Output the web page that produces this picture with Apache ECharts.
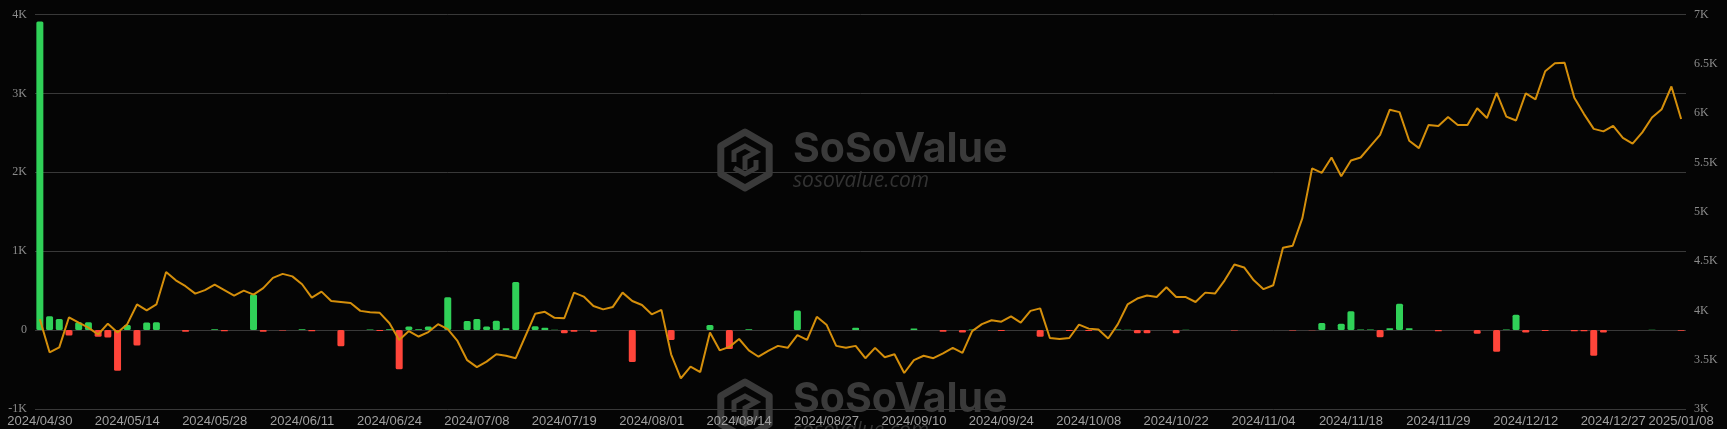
<!DOCTYPE html>
<html>
<head>
<meta charset="utf-8">
<title>HK ETF flows</title>
<script src="https://cdn.jsdelivr.net/npm/echarts@6/dist/echarts.min.js"></script>
<style>
  html, body { margin: 0; padding: 0; background: #050505; }
  #chart { width: 1727px; height: 429px; }
</style>
</head>
<body>
<div id="chart"></div>
<script>
// 交易日（香港）
const dates = [
  '2024/04/30','2024/05/02','2024/05/03','2024/05/06','2024/05/07','2024/05/08','2024/05/09','2024/05/10','2024/05/13','2024/05/14',
  '2024/05/16','2024/05/17','2024/05/20','2024/05/21','2024/05/22','2024/05/23','2024/05/24','2024/05/27','2024/05/28','2024/05/29',
  '2024/05/30','2024/05/31','2024/06/03','2024/06/04','2024/06/05','2024/06/06','2024/06/07','2024/06/11','2024/06/12','2024/06/13',
  '2024/06/14','2024/06/17','2024/06/18','2024/06/19','2024/06/20','2024/06/21','2024/06/24','2024/06/25','2024/06/26','2024/06/27',
  '2024/06/28','2024/07/02','2024/07/03','2024/07/04','2024/07/05','2024/07/08','2024/07/09','2024/07/10','2024/07/11','2024/07/12',
  '2024/07/15','2024/07/16','2024/07/17','2024/07/18','2024/07/19','2024/07/22','2024/07/23','2024/07/24','2024/07/25','2024/07/26',
  '2024/07/29','2024/07/30','2024/07/31','2024/08/01','2024/08/02','2024/08/05','2024/08/06','2024/08/07','2024/08/08','2024/08/09',
  '2024/08/12','2024/08/13','2024/08/14','2024/08/15','2024/08/16','2024/08/19','2024/08/20','2024/08/21','2024/08/22','2024/08/23',
  '2024/08/26','2024/08/27','2024/08/28','2024/08/29','2024/08/30','2024/09/02','2024/09/03','2024/09/04','2024/09/05','2024/09/09',
  '2024/09/10','2024/09/11','2024/09/12','2024/09/13','2024/09/16','2024/09/17','2024/09/19','2024/09/20','2024/09/23','2024/09/24',
  '2024/09/25','2024/09/26','2024/09/27','2024/09/30','2024/10/02','2024/10/03','2024/10/04','2024/10/07','2024/10/08','2024/10/09',
  '2024/10/10','2024/10/14','2024/10/15','2024/10/16','2024/10/17','2024/10/18','2024/10/21','2024/10/22','2024/10/23','2024/10/24',
  '2024/10/25','2024/10/28','2024/10/29','2024/10/30','2024/10/31','2024/11/01','2024/11/04','2024/11/05','2024/11/06','2024/11/07',
  '2024/11/11','2024/11/12','2024/11/13','2024/11/14','2024/11/15','2024/11/18','2024/11/19','2024/11/20','2024/11/21','2024/11/22',
  '2024/11/25','2024/11/26','2024/11/27','2024/11/28','2024/11/29','2024/12/02','2024/12/03','2024/12/04','2024/12/05','2024/12/06',
  '2024/12/09','2024/12/10','2024/12/11','2024/12/12','2024/12/13','2024/12/16','2024/12/17','2024/12/18','2024/12/19','2024/12/20',
  '2024/12/23','2024/12/24','2024/12/27','2024/12/30','2024/12/31','2025/01/02','2025/01/03','2025/01/06','2025/01/07','2025/01/08'
];

// 每日净流入（左轴）
const netFlow = [
  3910, 175, 140, -70, 100, 100, -85, -95, -515, 65,
  -195, 95, 100, 0, 0, -20, 0, 0, 10, -15,
  0, 0, 450, -20, 0, -5, 0, 10, -15, 0,
  0, -205, 0, 0, 8, -12, 10, -495, 45, 12,
  45, 0, 415, 0, 115, 140, 45, 120, 25, 610,
  0, 50, 30, 3, -40, -20, 0, -20, 0, 0,
  0, -405, 0, 0, 0, -125, 0, 0, 0, 65,
  0, -240, 0, 10, 0, 0, 0, 0, 250, 0,
  0, 0, 0, 0, 30, 0, 0, 0, 0, 0,
  20, 0, 0, -20, 0, -30, 8, 0, 0, -10,
  0, 0, 0, -85, 0, 0, -10, 0, -10, 0,
  0, 8, 5, -40, -40, 0, 0, -40, 5, 0,
  0, 0, 0, -5, 0, 0, 0, 0, 0, -5,
  0, -3, 90, 0, 80, 240, 8, 8, -90, 25,
  335, 25, 0, 0, -15, 0, 0, 0, -45, 0,
  -275, 8, 195, -30, 0, -10, 0, 0, -15, -15,
  -325, -30, 0, 0, 0, 0, 5, 0, 0, -8
];

// 总持仓（右轴）
const totalHolding = [
  3910, 3575, 3625, 3930, 3875, 3825, 3755, 3865, 3775, 3860,
  4060, 4000, 4060, 4390, 4305, 4245, 4170, 4205, 4260, 4205,
  4150, 4200, 4160, 4225, 4330, 4370, 4345, 4265, 4130, 4190,
  4095, 4085, 4075, 3995, 3980, 3975, 3870, 3700, 3790, 3735,
  3780, 3860, 3810, 3690, 3495, 3425, 3480, 3555, 3540, 3515,
  3740, 3965, 3985, 3925, 3920, 4180, 4140, 4045, 4010, 4035,
  4180, 4095, 4055, 3960, 4005, 3555, 3310, 3430, 3375, 3775,
  3595, 3630, 3710, 3595, 3530, 3590, 3640, 3620, 3750, 3700,
  3935, 3855, 3640, 3620, 3640, 3515, 3620, 3525, 3555, 3365,
  3495, 3540, 3515, 3565, 3620, 3570, 3790, 3860, 3900, 3885,
  3940, 3875, 3995, 4020, 3720, 3710, 3720, 3855, 3815, 3805,
  3715, 3860, 4060, 4120, 4150, 4135, 4235, 4135, 4135, 4085,
  4180, 4170, 4305, 4465, 4435, 4305, 4215, 4255, 4635, 4655,
  4935, 5440, 5395, 5550, 5360, 5520, 5550, 5665, 5780, 6035,
  6010, 5720, 5645, 5880, 5870, 5960, 5880, 5880, 6050, 5950,
  6205, 5965, 5925, 6200, 6140, 6425, 6505, 6510, 6155, 5990,
  5840, 5815, 5870, 5750, 5690, 5805, 5955, 6040, 6270, 5940
];

const GREEN = '#30d158';
const RED = '#ff453a';
const GOLD = '#d58f0b';
const WM = '#3a3a3a';

const fmtK = (v) => (v === 0 ? '0' : v / 1000 + 'K');

// 水印
const makeWatermark = (cx, cy) => ({
  type: 'group',
  x: cx,
  y: cy,
  silent: true,
  z: -10,
  children: [
    {
      type: 'polygon',
      shape: { points: [[0, -28], [24.2, -14], [24.2, 14], [0, 28], [-24.2, 14], [-24.2, -14]] },
      style: { fill: 'none', stroke: WM, lineWidth: 7, lineJoin: 'round' }
    },
    {
      type: 'polyline',
      shape: { points: [[-11, 2], [-11, -8], [0, -14], [11, -8], [0, -2], [0, 10]] },
      style: { fill: 'none', stroke: WM, lineWidth: 5, lineJoin: 'miter' }
    },
    {
      type: 'polyline',
      shape: { points: [[-11, 8], [0, 14], [11, 8], [11, 0]] },
      style: { fill: 'none', stroke: WM, lineWidth: 5 }
    },
    {
      type: 'text',
      x: 48,
      y: -31,
      style: { text: 'SoSoValue', fill: WM, font: 'bold 41px Inter', verticalAlign: 'top' }
    },
    {
      type: 'text',
      x: 48,
      y: 11,
      style: { text: 'sosovalue.com', fill: '#333333', font: 'italic 21px "Open Sans"', verticalAlign: 'top' }
    }
  ]
});

const chart = echarts.init(document.getElementById('chart'), null, { renderer: 'canvas' });

chart.setOption({
  backgroundColor: '#050505',
  animation: false,
  graphic: [makeWatermark(745, 160), makeWatermark(745, 410)],
  grid: { left: 35, right: 41, top: 14.5, bottom: 20, containLabel: false },
  xAxis: {
    type: 'category',
    data: dates,
    boundaryGap: true,
    axisLine: { show: false },
    axisTick: { show: false },
    axisLabel: {
      color: '#a0a0a0',
      fontFamily: 'Liberation Sans',
      fontSize: 13,
      margin: 6,
      hideOverlap: false,
      interval: (i) => i % 9 === 0 || i === dates.length - 1
    },
    splitLine: { show: false }
  },
  yAxis: [
    {
      type: 'value',
      min: -1000,
      max: 4000,
      interval: 1000,
      axisLine: { show: false },
      axisTick: { show: false },
      axisLabel: { color: '#8c8c8c', fontFamily: 'Liberation Serif', fontSize: 12, margin: 8, formatter: fmtK },
      splitLine: { lineStyle: { color: '#393939', width: 1 } }
    },
    {
      type: 'value',
      min: 3000,
      max: 7000,
      interval: 500,
      axisLine: { show: false },
      axisTick: { show: false },
      axisLabel: { color: '#8c8c8c', fontFamily: 'Liberation Serif', fontSize: 12, margin: 8, formatter: fmtK },
      splitLine: { show: false }
    }
  ],
  series: [
    {
      name: '净流入',
      type: 'bar',
      yAxisIndex: 0,
      data: netFlow,
      barWidth: 7,
      itemStyle: {
        borderRadius: 1.5,
        color: (p) => (p.value >= 0 ? GREEN : RED)
      }
    },
    {
      name: '总持仓',
      type: 'line',
      yAxisIndex: 1,
      data: totalHolding,
      showSymbol: false,
      symbol: 'none',
      lineStyle: { color: GOLD, width: 2 },
      z: 3
    }
  ]
});
</script>
</body>
</html>
